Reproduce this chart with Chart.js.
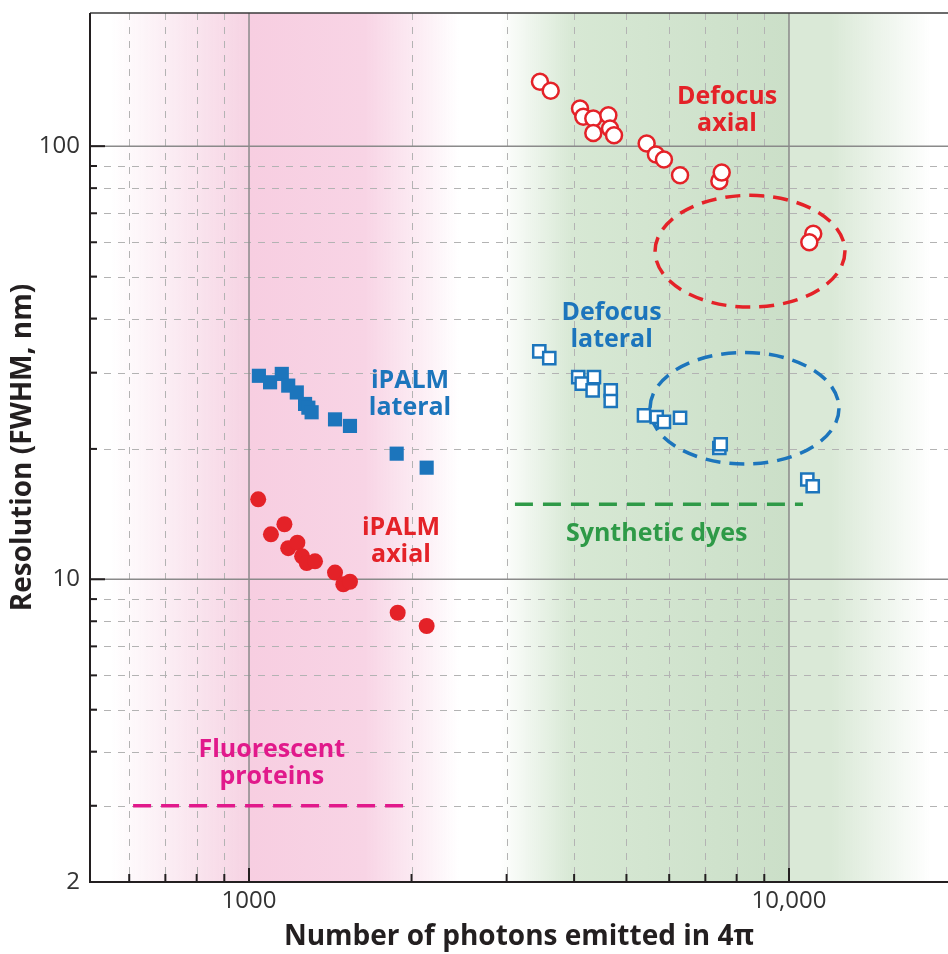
<!DOCTYPE html>
<html>
<head>
<meta charset="utf-8">
<title>Resolution vs. photons emitted</title>
<script src="https://cdn.jsdelivr.net/npm/chart.js@4.4.1/dist/chart.umd.min.js"></script>
<style>
    html, body { margin: 0; padding: 0; background: #fff; overflow: hidden; }
    .chart-container { position: relative; width: 948px; height: 954px; }
    canvas { display: block; }
</style>
</head>
<body>
<div class="chart-container"><canvas id="resolutionChart"></canvas></div>
<script>
// iPALM lateral (filled squares)
const ipalmLateralPhotons = [1043, 1094, 1150, 1182, 1226, 1270, 1288, 1306, 1443, 1538, 1877, 2133];
const ipalmLateralRes = [29.5, 28.5, 29.8, 28.0, 27.0, 25.4, 24.9, 24.3, 23.4, 22.6, 19.5, 18.1];

// iPALM axial (filled circles)
const ipalmAxialPhotons = [1040, 1098, 1163, 1182, 1229, 1254, 1279, 1325, 1443, 1495, 1538, 1885, 2133];
const ipalmAxialRes = [15.3, 12.7, 13.4, 11.8, 12.15, 11.3, 10.9, 11.0, 10.36, 9.74, 9.87, 8.37, 7.80];

// Defocus axial (open circles)
const defocusAxialPhotons = [3458, 3620, 4102, 4160, 4341, 4629, 4341, 4662, 4742, 5450, 5670, 5867, 6284, 7430, 7506, 11090, 10905];
const defocusAxialRes = [140.8, 134.3, 122.2, 116.9, 115.9, 117.9, 107.3, 109.9, 106.0, 101.4, 95.7, 93.2, 85.7, 83.1, 86.9, 62.8, 60.0];

// Defocus lateral (open squares)
const defocusLateralPhotons = [3448, 3598, 4071, 4353, 4131, 4329, 4676, 4676, 5389, 5689, 5867, 6284, 7430, 7474, 10812, 11064];
const defocusLateralRes = [33.6, 32.4, 29.3, 29.3, 28.3, 27.3, 27.3, 25.8, 23.9, 23.7, 23.1, 23.6, 20.1, 20.5, 17.0, 16.4];

// typical ranges
const fluorescentPhotons = [610, 1950];
const fluorescentRes = [3, 3];
const syntheticPhotons = [3108, 10614];
const syntheticRes = [14.9, 14.9];

// axes
const xTickValues = [1000, 10000];
const xTickLabels = ['1000', '10,000'];
const yTickValues = [2, 10, 100];
const yTickLabels = ['2', '10', '100'];
const xMinorValues = [600, 700, 800, 900, 2000, 3000, 4000, 5000, 6000, 7000, 8000, 9000];
const yMinorValues = [3, 4, 5, 6, 7, 8, 9, 20, 30, 40, 50, 60, 70, 80, 90];

const RED = '#e42228';
const BLUE = '#1c75bc';
const GREEN = '#2e9a47';
const MAGENTA = '#e1198b';
const INK = '#231f20';

// annotations (data units)
const ellipses = [
    { xMin: 5649, xMax: 12694, yMin: 42.5, yMax: 77.0, color: RED },
    { xMin: 5529, xMax: 12376, yMin: 18.45, yMax: 33.4, color: BLUE }
];
const notes = [
    { lines: ['Defocus', 'axial'], x: 7678, y: 121, color: RED },
    { lines: ['Defocus', 'lateral'], x: 4694, y: 38.3, color: BLUE },
    { lines: ['iPALM', 'lateral'], x: 1987, y: 26.7, color: BLUE },
    { lines: ['iPALM', 'axial'], x: 1912, y: 12.2, color: RED },
    { lines: ['Fluorescent', 'proteins'], x: 1102, y: 3.76, color: MAGENTA },
    { lines: ['Synthetic dyes'], x: 5689, y: 12.73, color: GREEN }
];
const bands = [
    { from: 555, to: 1000, stops: [[0, 'rgba(246,212,228,0)'], [1, '#f6d3e3']] },
    { from: 1000, to: 2450, stops: [[0, '#f7cee1'], [0.55, '#f8d4e5'], [1, 'rgba(248,212,229,0)']] },
    { from: 2920, to: 10000, stops: [[0, 'rgba(215,232,212,0)'], [0.25, '#d7e8d4'], [1, '#cbdfc8']] },
    { from: 10000, to: 18300, stops: [[0, '#dae9d7'], [0.3, '#dae9d7'], [1, 'rgba(218,233,215,0)']] }
];

function toPoints(xs, ys) {
    return xs.map((x, i) => ({ x: x, y: ys[i] }));
}

const backdropPlugin = {
    id: 'backdrop',
    beforeDatasetsDraw(chart) {
        const { ctx, chartArea: a, scales: { x, y } } = chart;
        ctx.save();
        ctx.beginPath();
        ctx.rect(a.left, a.top, a.right - a.left, a.bottom - a.top);
        ctx.clip();

        // coloured bands
        bands.forEach(b => {
            const x0 = x.getPixelForValue(b.from);
            const x1 = x.getPixelForValue(b.to);
            const g = ctx.createLinearGradient(x0, 0, x1, 0);
            b.stops.forEach(s => g.addColorStop(s[0], s[1]));
            ctx.fillStyle = g;
            ctx.fillRect(x0, a.top, x1 - x0, a.bottom - a.top);
        });

        // minor grid, dashed
        ctx.strokeStyle = '#b3b3b3';
        ctx.lineWidth = 1;
        ctx.setLineDash([7, 7]);
        xMinorValues.forEach(v => {
            const px = Math.round(x.getPixelForValue(v)) + 0.5;
            ctx.beginPath();
            ctx.moveTo(px, a.top);
            ctx.lineTo(px, a.bottom);
            ctx.stroke();
        });
        yMinorValues.forEach(v => {
            const py = Math.round(y.getPixelForValue(v)) + 0.5;
            ctx.beginPath();
            ctx.moveTo(a.left, py);
            ctx.lineTo(a.right, py);
            ctx.stroke();
        });

        // decade grid, solid
        ctx.setLineDash([]);
        ctx.strokeStyle = '#8a8a8a';
        ctx.lineWidth = 1.5;
        xTickValues.forEach(v => {
            const px = x.getPixelForValue(v);
            ctx.beginPath();
            ctx.moveTo(px, a.top);
            ctx.lineTo(px, a.bottom);
            ctx.stroke();
        });
        yTickValues.forEach(v => {
            const py = y.getPixelForValue(v);
            ctx.beginPath();
            ctx.moveTo(a.left, py);
            ctx.lineTo(a.right, py);
            ctx.stroke();
        });

        // dashed ellipses
        ctx.lineWidth = 3.5;
        ctx.setLineDash([15, 9]);
        ellipses.forEach(e => {
            const x0 = x.getPixelForValue(e.xMin), x1 = x.getPixelForValue(e.xMax);
            const y0 = y.getPixelForValue(e.yMax), y1 = y.getPixelForValue(e.yMin);
            ctx.strokeStyle = e.color;
            ctx.beginPath();
            ctx.ellipse((x0 + x1) / 2, (y0 + y1) / 2, (x1 - x0) / 2, (y1 - y0) / 2, 0, 0, Math.PI * 2);
            ctx.stroke();
        });
        ctx.restore();
    },
    afterDatasetsDraw(chart) {
        const { ctx, chartArea: a, scales: { x, y } } = chart;
        ctx.save();

        // frame and tick marks
        ctx.strokeStyle = '#3a3a3a';
        ctx.lineWidth = 1.5;
        ctx.beginPath();
        ctx.moveTo(a.left, a.top);
        ctx.lineTo(a.right, a.top);
        ctx.stroke();

        ctx.strokeStyle = INK;
        ctx.lineWidth = 2;
        ctx.beginPath();
        ctx.moveTo(a.left, a.top);
        ctx.lineTo(a.left, a.bottom);
        ctx.lineTo(a.right, a.bottom);
        ctx.stroke();

        const tick = (px, py, dx, dy) => {
            ctx.beginPath();
            ctx.moveTo(px, py);
            ctx.lineTo(px + dx, py + dy);
            ctx.stroke();
        };
        xMinorValues.forEach(v => tick(x.getPixelForValue(v), a.bottom, 0, -8));
        xTickValues.forEach(v => tick(x.getPixelForValue(v), a.bottom, 0, -14));
        yMinorValues.forEach(v => tick(a.left, y.getPixelForValue(v), 7, 0));
        yTickValues.forEach(v => tick(a.left, y.getPixelForValue(v), 15, 0));

        // text labels
        ctx.font = 'bold 25px "Open Sans"';
        ctx.textAlign = 'center';
        ctx.textBaseline = 'middle';
        const lineH = 27;
        notes.forEach(n => {
            const cx = x.getPixelForValue(n.x);
            const cy = y.getPixelForValue(n.y);
            ctx.fillStyle = n.color;
            n.lines.forEach((t, i) => {
                ctx.fillText(t, cx, cy + (i - (n.lines.length - 1) / 2) * lineH);
            });
        });
        ctx.restore();
    }
};

const ctx = document.getElementById('resolutionChart').getContext('2d');

new Chart(ctx, {
    type: 'scatter',
    data: {
        datasets: [
            {
                label: 'iPALM lateral',
                data: toPoints(ipalmLateralPhotons, ipalmLateralRes),
                pointStyle: 'rect',
                pointRadius: 10,
                backgroundColor: BLUE,
                borderColor: BLUE,
                borderWidth: 0
            },
            {
                label: 'iPALM axial',
                data: toPoints(ipalmAxialPhotons, ipalmAxialRes),
                pointStyle: 'circle',
                pointRadius: 8,
                backgroundColor: RED,
                borderColor: RED,
                borderWidth: 0
            },
            {
                label: 'Defocus axial',
                data: toPoints(defocusAxialPhotons, defocusAxialRes),
                pointStyle: 'circle',
                pointRadius: 8,
                backgroundColor: '#ffffff',
                borderColor: RED,
                borderWidth: 2.5
            },
            {
                label: 'Defocus lateral',
                data: toPoints(defocusLateralPhotons, defocusLateralRes),
                pointStyle: 'rect',
                pointRadius: 8.6,
                backgroundColor: '#ffffff',
                borderColor: BLUE,
                borderWidth: 2.5
            },
            {
                label: 'Fluorescent proteins',
                type: 'line',
                data: toPoints(fluorescentPhotons, fluorescentRes),
                borderColor: MAGENTA,
                borderWidth: 3.5,
                borderDash: [18, 10],
                pointRadius: 0,
                fill: false
            },
            {
                label: 'Synthetic dyes',
                type: 'line',
                data: toPoints(syntheticPhotons, syntheticRes),
                borderColor: GREEN,
                borderWidth: 3.5,
                borderDash: [18, 10],
                pointRadius: 0,
                fill: false
            }
        ]
    },
    options: {
        responsive: true,
        maintainAspectRatio: false,
        animation: false,
        events: [],
        layout: { autoPadding: false, padding: { top: 13, left: 0, right: 0, bottom: 0 } },
        plugins: {
            legend: { display: false },
            tooltip: { enabled: false }
        },
        scales: {
            x: {
                type: 'logarithmic',
                min: 507.6,
                max: 19700,
                afterBuildTicks: scale => {
                    scale.ticks = xTickValues.map(v => ({ value: v }));
                },
                afterFit: scale => {
                    scale.height = 72;
                    scale.paddingLeft = 0;
                    scale.paddingRight = 0;
                },
                grid: { display: false, drawTicks: false },
                border: { display: false },
                ticks: {
                    autoSkip: false,
                    maxRotation: 0,
                    padding: 5,
                    color: '#333333',
                    font: { family: 'Open Sans', size: 24 },
                    callback: (value, index) => xTickLabels[index]
                },
                title: {
                    display: true,
                    text: 'Number of photons emitted in 4π',
                    color: INK,
                    font: { family: 'Open Sans', size: 28, weight: 'bold' },
                    padding: { top: 0, bottom: 0 }
                }
            },
            y: {
                type: 'logarithmic',
                min: 2,
                max: 203,
                afterBuildTicks: scale => {
                    scale.ticks = yTickValues.map(v => ({ value: v }));
                },
                afterFit: scale => {
                    scale.width = 90;
                    scale.paddingTop = 0;
                    scale.paddingBottom = 0;
                },
                grid: { display: false, drawTicks: false },
                border: { display: false },
                ticks: {
                    autoSkip: false,
                    padding: 10,
                    color: '#333333',
                    font: { family: 'Open Sans', size: 24 },
                    callback: (value, index) => yTickLabels[index]
                },
                title: {
                    display: true,
                    text: 'Resolution (FWHM, nm)',
                    color: INK,
                    font: { family: 'Open Sans', size: 28, weight: 'bold' },
                    padding: { top: 6, bottom: 0 }
                }
            }
        }
    },
    plugins: [backdropPlugin]
});
</script>
</body>
</html>
